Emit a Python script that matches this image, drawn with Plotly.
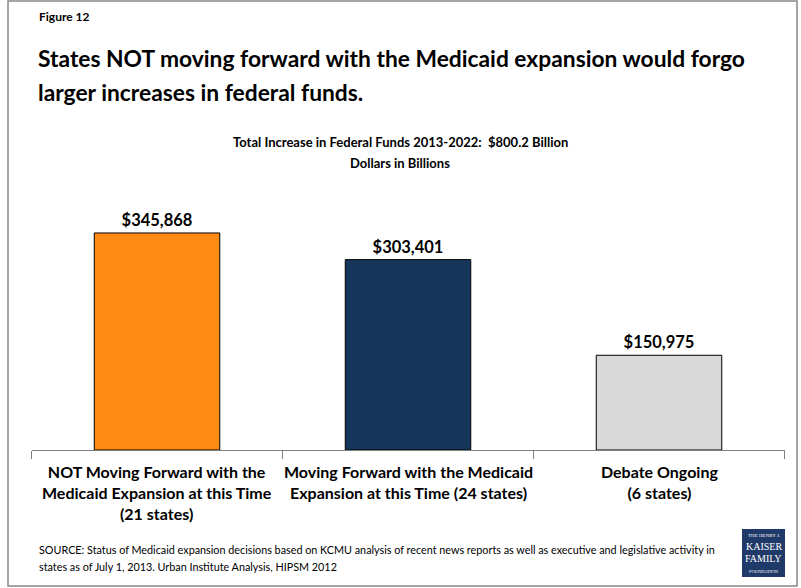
import plotly.graph_objects as go

categories = ["not_moving", "moving", "debate"]
category_labels = [
    "NOT Moving Forward with the<br>Medicaid Expansion at this Time<br>(21 states)",
    "Moving Forward with the Medicaid<br>Expansion at this Time (24 states)",
    "Debate Ongoing<br>(6 states)",
]
values = [345868, 303401, 150975]
bar_colors = ["#FF8A14", "#15365A", "#D9D9D9"]

W, H = 801, 588
FONT = "Lato, 'Open Sans', sans-serif"


def px_y(y):
    return 1 - y / H


def px_x(x):
    return x / W


fig = go.Figure(
    go.Bar(
        x=categories,
        y=values,
        marker=dict(color=bar_colors, line=dict(color="#000000", width=1)),
        width=0.5,
        text=[f"<b>${v:,}</b>" for v in values],
        textposition="outside",
        textfont=dict(family=FONT, size=16.5, color="#000000"),
        cliponaxis=False,
        hoverinfo="skip",
    )
)

fig.update_layout(
    width=W,
    height=H,
    margin=dict(l=0, r=0, t=0, b=0),
    paper_bgcolor="white",
    plot_bgcolor="white",
    showlegend=False,
    font=dict(family=FONT, color="#000000"),
    xaxis=dict(
        domain=[px_x(31.5), px_x(784.5)],
        showline=True,
        linecolor="#808080",
        linewidth=1,
        ticks="outside",
        tickson="boundaries",
        ticklen=8,
        tickcolor="#808080",
        showticklabels=False,
        showgrid=False,
    ),
    yaxis=dict(
        domain=[px_y(450), px_y(199)],
        range=[0, 400000],
        visible=False,
        showgrid=False,
    ),
)

# frame
fig.add_shape(type="rect", xref="paper", yref="paper",
              x0=px_x(8), x1=px_x(797), y0=px_y(586), y1=px_y(1),
              line=dict(color="#888888", width=1.5))

# category labels
for cat, lab in zip(categories, category_labels):
    fig.add_annotation(x=cat, xref="x", y=px_y(460), yref="paper",
                       text=f"<b>{lab}</b>", showarrow=False, yanchor="top",
                       font=dict(family=FONT, size=16, color="#000000"))


def note(x, y, text, size, xanchor="left", align="left", family=FONT, color="#000000"):
    fig.add_annotation(x=px_x(x), y=px_y(y), xref="paper", yref="paper",
                       text=text, showarrow=False, xanchor=xanchor, yanchor="middle",
                       align=align, font=dict(family=family, size=size, color=color))


note(37, 17, "<b>Figure 12</b>", 12)
note(36, 58, "<b>States NOT moving forward with the Medicaid expansion would forgo</b>", 22.8)
note(36, 92, "<b>larger increases in federal funds.</b>", 22.8)
note(400, 142, "<b>Total Increase in Federal Funds 2013-2022:  $800.2 Billion</b>", 13, xanchor="center")
note(400, 163, "<b>Dollars in Billions</b>", 13, xanchor="center")
note(37, 549, "SOURCE: Status of Medicaid expansion decisions based on KCMU analysis of recent news reports as well as executive and legislative activity in", 10.8)
note(37, 566, "states as of July 1, 2013. Urban Institute Analysis, HIPSM 2012", 10.8)

# logo
fig.add_shape(type="rect", xref="paper", yref="paper",
              x0=px_x(742), x1=px_x(785), y0=px_y(577), y1=px_y(529),
              fillcolor="#1F3A68", line=dict(width=0))
for txt, yy, sz in [("THE HENRY J.", 535, 5), ("KAISER", 546, 10), ("FAMILY", 558, 10), ("FOUNDATION", 571, 4.5)]:
    note(763.5, yy, txt, sz, xanchor="center", align="center",
         family="Liberation Serif, serif", color="white")

fig.write_html("out.html", config={"displayModeBar": False},
               post_script="document.body.style.margin='0';")
